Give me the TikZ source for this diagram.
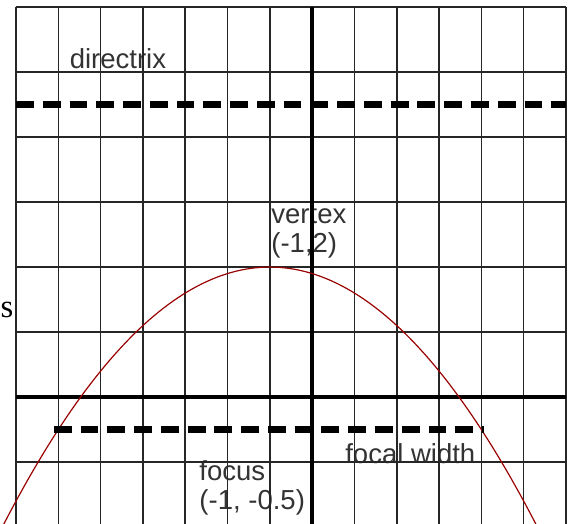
\documentclass[tikz,border=0pt]{standalone}
\usepackage{fontspec}
\setmainfont{Liberation Sans}
\newfontfamily\straysf{Liberation Serif}

\begin{document}
\begin{tikzpicture}[
        x = 1cm, y = 1.5366cm,
        gridline/.style = {draw = black!85, line width = 1pt},
        axis/.style = {draw = black, line width = 2.8pt},
        guide/.style = {draw = black, line width = 4.4pt, dash pattern = on 12pt off 6pt},
        label/.style = {text = black!80, inner sep = 0pt, align = left,
                        font = \fontsize{18.5}{19.5}\selectfont},
        curve/.style = {draw = red!60!black, line width = 0.8pt}
    ]
      \useasboundingbox (-7.378, -1.938) rectangle (6.142, 6.108);
      \clip (-7.378, -1.938) rectangle (6.142, 6.108);

      % labels
      \node[label, anchor = base] (dirlabel) at (-4.59, 5.06) {directrix};
      \node[label, anchor = north west] (vertex) at (-0.97, 2.95) {vertex\\(-1,2)};
      \node[label, anchor = north west] (focus) at (-2.67, -0.98) {focus\\(-1, -0.5)};
      \node[label, anchor = base] (fwlabel) at (2.32, -1.015) {focal width};
      \node[inner sep = 0pt, anchor = base west, font = \straysf\fontsize{22}{22}\selectfont]
          (stray) at (-7.37, 1.22) {s};

      % grid
      \foreach \gx in {-7, ..., 6}
          \draw[gridline] (\gx, -2) -- (\gx, 6);
      \foreach \gy in {-2, ..., 6}
          \draw[gridline] (-7, \gy) -- (6, \gy);
      \draw[axis] (-7, 0) -- (6, 0);
      \draw[axis] (0, -2) -- (0, 6);

      % parabola
      \draw[curve] plot[domain = -7.4:6.2, samples = 120] (\x, {2 - (\x + 1)^2 / 10});

      % directrix and focal width
      \coordinate (dl) at (-7, 4.5);
      \coordinate (dr) at (6, 4.5);
      \coordinate (fl) at (-6, -0.5);
      \coordinate (fr) at (4, -0.5);
      \draw[guide] (dl) -- (dr);
      \draw[guide, shorten < = -3pt, shorten > = -2pt] (fl) -- (fr);
\end{tikzpicture}
\end{document}
